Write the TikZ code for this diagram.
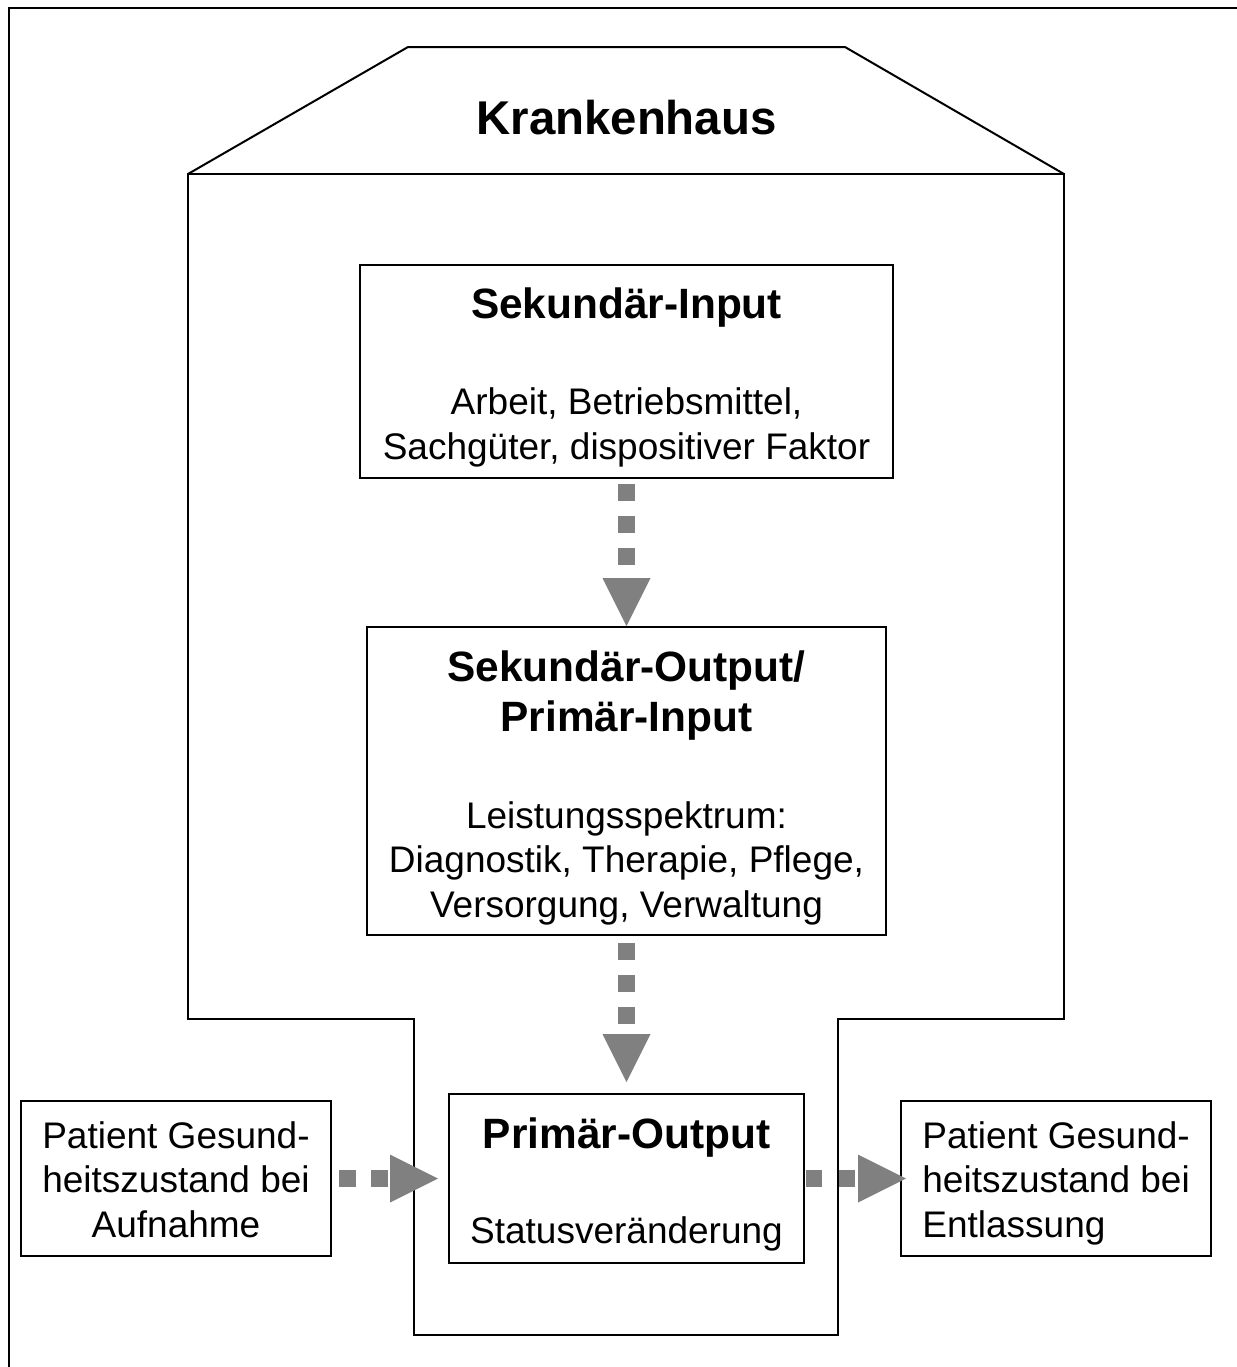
\documentclass[tikz,border=0pt]{standalone}
\usepackage{fontspec}
\setmainfont{Liberation Sans}
\usetikzlibrary{arrows.meta,fit}
\definecolor{flowgray}{RGB}{128,128,128}
\begin{document}
\begin{tikzpicture}[x=0.5pt,y=-0.5pt,
  outline/.style={draw, line width=1pt, line join=miter},
  box/.style={draw, line width=1pt, fill=white, inner sep=0pt},
  flow/.style={draw=flowgray, line width=8.5pt, dash pattern=on 8.5pt off 7.5pt,
    -{Triangle[length=24pt,width=24pt,line width=0pt]}},
  heading/.style={anchor=base, inner sep=0pt, align=center,
    font=\fontsize{21.2}{25}\selectfont\bfseries},
  body/.style={anchor=base, inner sep=0pt, align=center,
    font=\fontsize{18.5}{22.25}\selectfont},
]
\useasboundingbox (0,0) rectangle (1237,1367);

% page frame, running off the right and bottom edges
\draw[outline] (9,1380) -- (9,8) -- (1250,8);

% hospital building: roof and walls with the lower annex
\draw[outline] (188,174) -- (408,47) -- (845,47) -- (1064,174);
\draw[outline] (188,174) -- (1064,174) -- (1064,1019) -- (838,1019)
  -- (838,1335) -- (414,1335) -- (414,1019) -- (188,1019) -- cycle;
\node[anchor=base, inner sep=0pt, font=\fontsize{23.7}{28}\selectfont\bfseries]
  (house) at (626.5,134) {Krankenhaus};

% boxes
\node[box, fit={(360,265) (893,478)}] (sin) {};
\node[box, fit={(367,627) (886,935)}] (sout) {};
\node[box, fit={(449,1094) (804,1263)}] (pout) {};
\node[box, fit={(21,1101) (331,1256)}] (pin) {};
\node[box, fit={(901,1101) (1211,1256)}] (pdis) {};

% box texts (multi-line nodes are placed by the baseline of their last line)
\node[heading] (sinT) at (626.5,318) {Sekundär-Input};
\node[body] (sinB) at (626.5,459) {Arbeit, Betriebsmittel,\\Sachgüter, dispositiver Faktor};
\node[heading] (soutT) at (626.5,731) {Sekundär-Output/\\Primär-Input};
\node[body] (soutB) at (626.5,917) {Leistungsspektrum:\\Diagnostik, Therapie, Pflege,\\Versorgung, Verwaltung};
\node[heading] (poutT) at (626.5,1148) {Primär-Output};
\node[body] (poutB) at (626.5,1243) {Statusveränderung};
\node[body] (pinT) at (176,1237) {Patient Gesund-\\heitszustand bei\\Aufnahme};
\node[body, anchor=base west, align=left] (pdisT) at (922,1237)
  {Patient Gesund-\\heitszustand bei\\Entlassung};

% flows
\draw[flow, shorten <=2.5pt] (sin.south) -- (sout.north);
\draw[flow, shorten <=3.5pt, shorten >=5.5pt] (sout.south) -- (pout.north);
\draw[flow, shorten <=3.5pt, shorten >=5pt] (pin.east) -- (pout.west);
\draw[flow, dash pattern=on 8pt off 8.5pt, shorten <=0.5pt, shorten >=-3pt]
  (pout.east) -- (pdis.west);
\end{tikzpicture}
\end{document}
